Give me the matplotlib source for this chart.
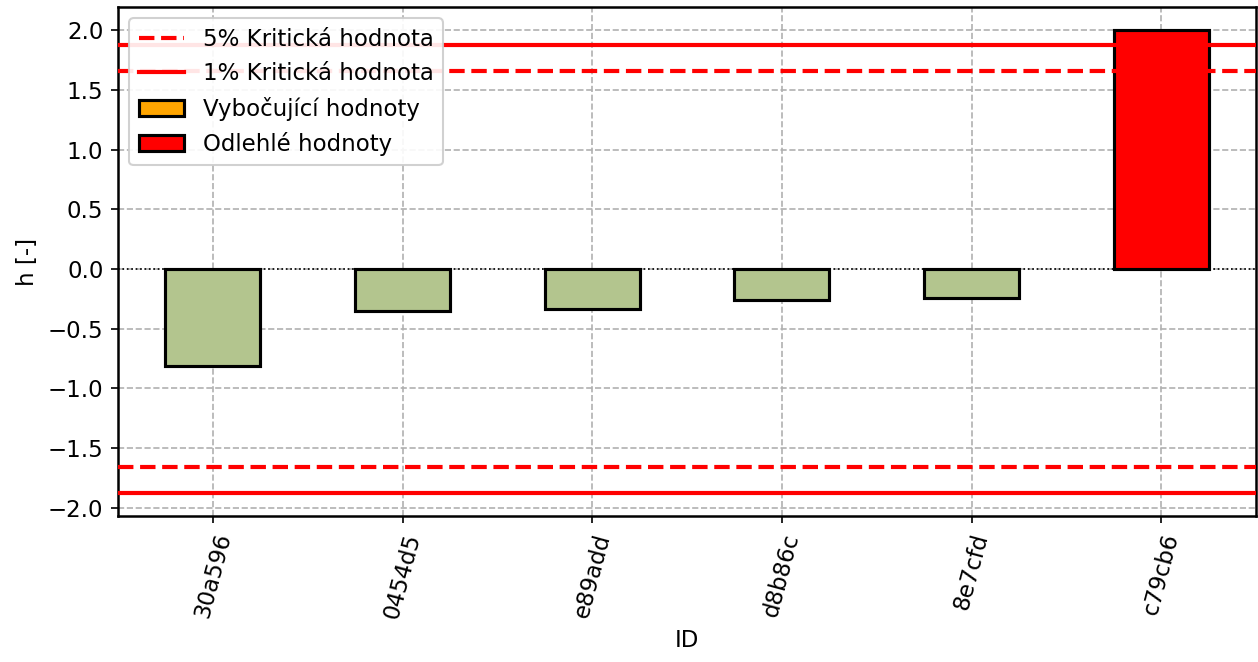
import matplotlib
matplotlib.use("Agg")
import matplotlib.pyplot as plt
from matplotlib.lines import Line2D
from matplotlib.patches import Patch

# Mandel h statistic per laboratory
labs = ["30a596", "0454d5", "e89add", "d8b86c", "8e7cfd", "c79cb6"]
h_values = [-0.81, -0.35, -0.335, -0.26, -0.245, 2.0]
bar_colors = ["#b3c58e", "#b3c58e", "#b3c58e", "#b3c58e", "#b3c58e", "red"]

crit_5 = 1.657
crit_1 = 1.874

plt.rcParams["font.size"] = 11

fig = plt.figure(figsize=(1258 / 150, 662 / 150), dpi=150)
ax = fig.add_axes([118 / 1258, 1 - 516 / 662, (1256 - 118) / 1258, (516 - 7) / 662])

x = range(len(labs))
ax.bar(x, h_values, width=0.5, color=bar_colors, edgecolor="black",
       linewidth=1.5, zorder=3)

ax.axhline(0, color="black", linestyle=":", linewidth=0.8, zorder=2)
for sign in (1, -1):
    ax.axhline(sign * crit_5, color="red", linestyle="--", linewidth=2, zorder=4)
    ax.axhline(sign * crit_1, color="red", linestyle="-", linewidth=2, zorder=4)

ax.set_xlim(-0.5, len(labs) - 0.5)
ax.set_xticks(list(x))
ax.set_xticklabels(labs, rotation=75)
ax.set_xlabel("ID")
ax.set_ylabel("h [-]")
ax.grid(True, linestyle="--", color="#b0b0b0", linewidth=0.8, zorder=0)
ax.set_axisbelow(True)
for s in ax.spines.values():
    s.set_linewidth(1.2)

handles = [
    Line2D([0], [0], color="red", linestyle="--", linewidth=2),
    Line2D([0], [0], color="red", linestyle="-", linewidth=2),
    Patch(facecolor="orange", edgecolor="black", linewidth=1.5),
    Patch(facecolor="red", edgecolor="black", linewidth=1.5),
]
labels = ["5% Kritická hodnota", "1% Kritická hodnota",
          "Vybočující hodnoty", "Odlehlé hodnoty"]
ax.legend(handles, labels, loc="upper left", framealpha=0.9)

fig.savefig("out.png", dpi=150)
